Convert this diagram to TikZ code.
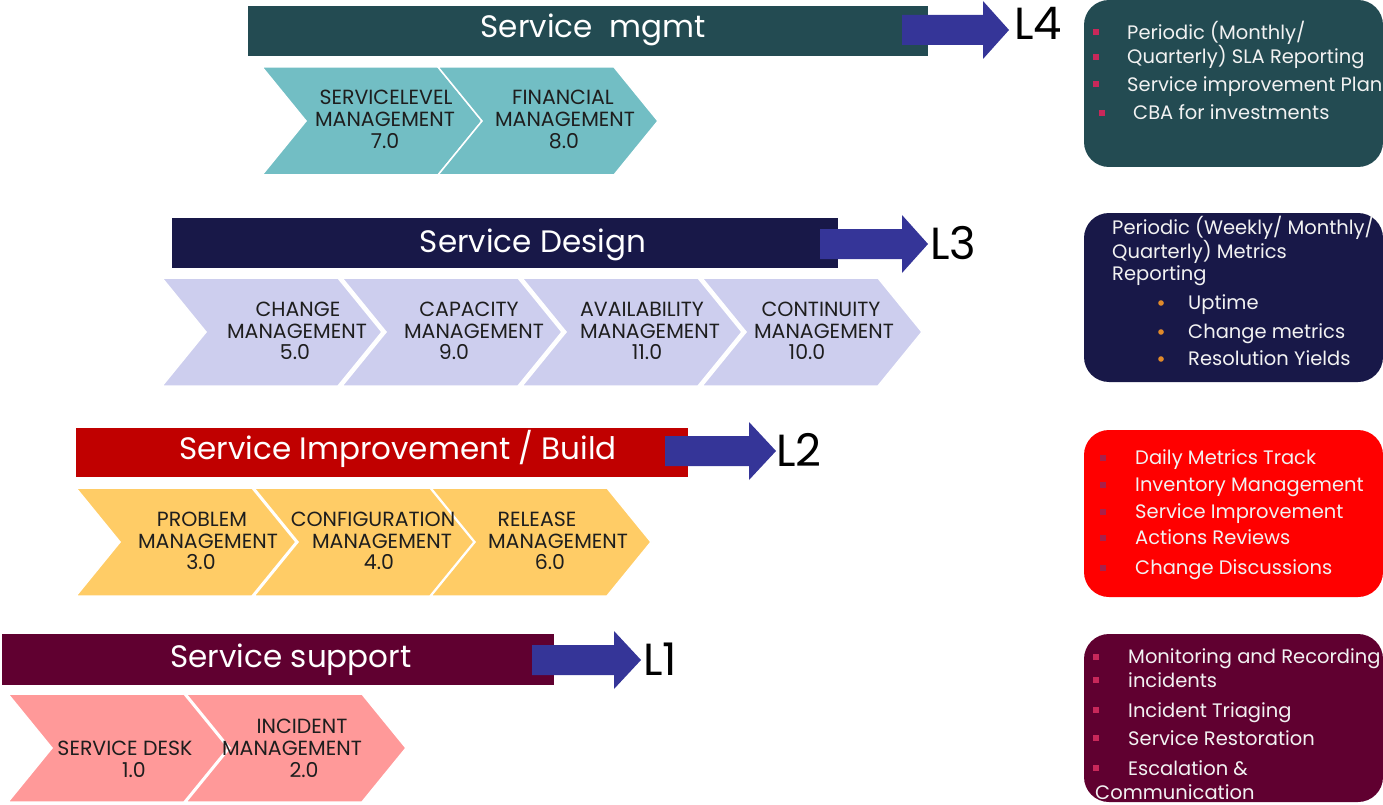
\documentclass[tikz,border=0pt]{standalone}
\usepackage{fontspec}
\setmainfont{Poppins}
\definecolor{tealdk}{HTML}{234B52}
\definecolor{navy}{HTML}{181848}
\definecolor{redbar}{HTML}{C00000}
\definecolor{redbox}{HTML}{FF0000}
\definecolor{plum}{HTML}{600030}
\definecolor{arrowblue}{HTML}{353598}
\definecolor{chevA}{HTML}{72BEC4}
\definecolor{chevB}{HTML}{CDCEEE}
\definecolor{chevC}{HTML}{FFCC66}
\definecolor{chevD}{HTML}{FF9999}
\definecolor{bulpink}{HTML}{C8285A}
\definecolor{bulorange}{HTML}{E08A2A}
\definecolor{bulred}{HTML}{A8204A}
\definecolor{boxtext}{HTML}{F2F2F2}
\definecolor{chevtext}{HTML}{1E1E1E}
\newcommand{\chevron}[3]{%
  \fill[#3, draw=white, line width=1.5pt] (#1,#2) -- ++(176,0) -- ++(44,54) -- ++(-44,54) -- ++(-176,0) -- ++(44,-54) -- cycle;}
\newcommand{\blockarrow}[4]{% start x, base x, tip x, mid y
  \fill[arrowblue] (#1,#4-15) -- (#2,#4-15) -- (#2,#4-29) -- (#3,#4) -- (#2,#4+29) -- (#2,#4+15) -- (#1,#4+15) -- cycle;}
\newcommand{\sqb}[3]{\fill[#3] (#1-2.8,#2-2.8) rectangle (#1+2.8,#2+2.8);}
\tikzset{
 ctext/.style={inner sep=0pt, text=chevtext, font=\fontsize{20.5}{20.5}\selectfont, text height=14.4pt, text depth=0pt},
 titletext/.style={inner sep=0pt, text=white, font=\fontsize{31}{31}\selectfont, text height=22pt, text depth=0pt},
 lvl/.style={inner sep=0pt, anchor=west, text=black, font=\fontsize{45}{45}\selectfont, text height=31.5pt, text depth=0pt},
 btext/.style={inner sep=0pt, anchor=west, text=boxtext, font=\fontsize{19.5}{19.5}\selectfont, text height=13.6pt, text depth=0pt},
}
\begin{document}
\begin{tikzpicture}[x=1pt,y=-1pt]
\useasboundingbox (0,0) rectangle (1383,805);
\clip (0,0) rectangle (1383,805);
% ---------- L4 ----------
\fill[tealdk] (248,6) rectangle (928,56);
\node[titletext] (t4) at (593,27) {Service~ mgmt};
\blockarrow{902}{983}{1009}{30}
\node[lvl] (l4) at (1014,24) {L4};
\chevron{262}{67}{chevA}
\chevron{438}{67}{chevA}
\node[ctext] (a1) at (386,97) {SERVICELEVEL};
\node[ctext] (a2) at (385,119) {MANAGEMENT};
\node[ctext] (a3) at (385,141) {7.0};
\node[ctext] (b1) at (563,97) {FINANCIAL};
\node[ctext] (b2) at (565,119) {MANAGEMENT};
\node[ctext] (b3) at (564,141) {8.0};
% ---------- L3 ----------
\fill[navy] (172,218) rectangle (838,268);
\node[titletext] (t3) at (533,241) {Service Design};
\blockarrow{820}{902}{928}{244}
\node[lvl] (l3) at (930,244) {L3};
\chevron{162}{278}{chevB}
\chevron{342}{278}{chevB}
\chevron{522}{278}{chevB}
\chevron{702}{278}{chevB}
\node[ctext] (c1) at (298,309) {CHANGE};
\node[ctext] (c2) at (297,331) {MANAGEMENT};
\node[ctext] (c3) at (295,352) {5.0};
\node[ctext] (d1) at (469,309) {CAPACITY};
\node[ctext] (d2) at (474,331) {MANAGEMENT};
\node[ctext] (d3) at (454,352) {9.0};
\node[ctext] (e1) at (642,309) {AVAILABILITY};
\node[ctext] (e2) at (650,331) {MANAGEMENT};
\node[ctext] (e3) at (647,352) {11.0};
\node[ctext] (f1) at (821,309) {CONTINUITY};
\node[ctext] (f2) at (824,331) {MANAGEMENT};
\node[ctext] (f3) at (807,352) {10.0};
% ---------- L2 ----------
\fill[redbar] (76,428) rectangle (688,477);
\node[titletext] (t2) at (398,448) {Service Improvement / Build};
\blockarrow{665}{749}{776}{451}
\node[lvl] (l2) at (776,451) {L2};
\chevron{76}{488}{chevC}
\chevron{254}{488}{chevC}
\chevron{431}{488}{chevC}
\node[ctext] (g1) at (202,519) {PROBLEM};
\node[ctext] (g2) at (208,541) {MANAGEMENT};
\node[ctext] (g3) at (201,562) {3.0};
\node[ctext] (h1) at (373,519) {CONFIGURATION};
\node[ctext] (h2) at (382,541) {MANAGEMENT};
\node[ctext] (h3) at (379,562) {4.0};
\node[ctext] (i1) at (537,519) {RELEASE};
\node[ctext] (i2) at (558,541) {MANAGEMENT};
\node[ctext] (i3) at (550,562) {6.0};
% ---------- L1 ----------
\fill[plum] (2,634) rectangle (554,685);
\node[titletext] (t1) at (291,656) {Service support};
\blockarrow{532}{614}{641}{660}
\node[lvl] (l1) at (643,660) {L1};
\chevron{8}{694}{chevD}
\chevron{186}{694}{chevD}
\node[ctext] (j1) at (125,748) {SERVICE DESK};
\node[ctext] (j2) at (134,770) {1.0};
\node[ctext] (k1) at (302,726) {INCIDENT};
\node[ctext] (k2) at (292,748) {MANAGEMENT};
\node[ctext] (k3) at (304,770) {2.0};
% ---------- right boxes ----------
\fill[tealdk, rounded corners=25pt] (1084,0) rectangle (1383,167);
\sqb{1096}{32}{bulpink}\sqb{1096}{57}{bulpink}\sqb{1096}{84}{bulpink}\sqb{1102}{113}{bulpink}
\node[btext] (p1) at (1127,33) {Periodic (Monthly/};
\node[btext] (p2) at (1127,57) {Quarterly) SLA Reporting};
\node[btext] (p3) at (1127,85) {Service improvement Plan};
\node[btext] (p4) at (1133,113) {CBA for investments};
\fill[navy, rounded corners=25pt] (1084,213) rectangle (1383,382);
\node[btext] (q1) at (1112,228) {Periodic (Weekly/ Monthly/};
\node[btext] (q2) at (1112,252) {Quarterly) Metrics};
\node[btext] (q3) at (1112,274) {Reporting};
\fill[bulorange] (1161,303) circle (2.8pt);
\fill[bulorange] (1161,332) circle (2.8pt);
\fill[bulorange] (1161,359) circle (2.8pt);
\node[btext] (q4) at (1188,303) {Uptime};
\node[btext] (q5) at (1188,332) {Change metrics};
\node[btext] (q6) at (1188,359) {Resolution Yields};
\fill[redbox, rounded corners=25pt] (1084,430) rectangle (1383,597);
\sqb{1103}{458}{bulred}\sqb{1103}{485}{bulred}\sqb{1103}{512}{bulred}\sqb{1103}{538}{bulred}\sqb{1103}{568}{bulred}
\node[btext] (r1) at (1135,458) {Daily Metrics Track};
\node[btext] (r2) at (1135,485) {Inventory Management};
\node[btext] (r3) at (1135,512) {Service Improvement};
\node[btext] (r4) at (1135,538) {Actions Reviews};
\node[btext] (r5) at (1135,568) {Change Discussions};
\fill[plum, rounded corners=25pt] (1084,634) rectangle (1383,802);
\sqb{1096}{657}{bulpink}\sqb{1096}{680}{bulpink}\sqb{1096}{710}{bulpink}\sqb{1096}{738}{bulpink}\sqb{1096}{768}{bulpink}
\node[btext] (s1) at (1128,657) {Monitoring and Recording};
\node[btext] (s2) at (1128,681) {incidents};
\node[btext] (s3) at (1128,711) {Incident Triaging};
\node[btext] (s4) at (1128,739) {Service Restoration};
\node[btext] (s5) at (1128,769) {Escalation \&};
\node[btext] (s6) at (1095,793) {Communication};
\end{tikzpicture}
\end{document}
